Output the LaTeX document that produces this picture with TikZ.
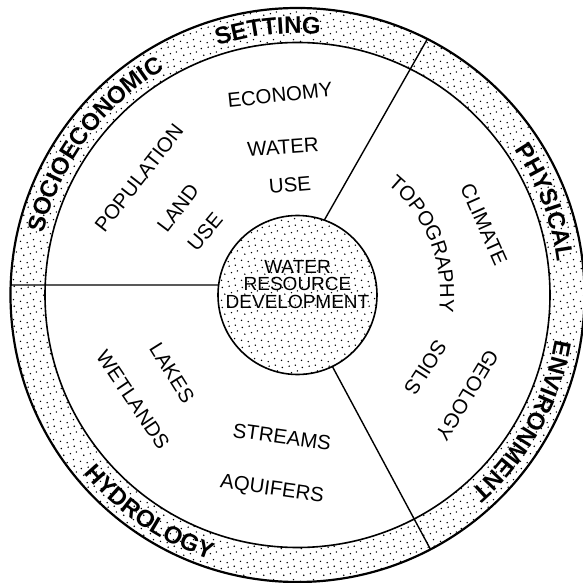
\documentclass[tikz,border=0pt]{standalone}
\usepackage{fontspec}
\setmainfont{Liberation Sans}
\usepackage{tikz}
\usetikzlibrary{decorations.text}
\usetikzlibrary{patterns}
\newcommand{\ringfont}{\fontsize{12}{14}\selectfont\bfseries}
\newcommand{\lablfont}{\fontsize{10.2}{12}\selectfont}
\pgfdeclarepatternformonly{stipple}{\pgfqpoint{0pt}{0pt}}{\pgfqpoint{10pt}{10pt}}{\pgfqpoint{10pt}{10pt}}{%
  \pgfpathcircle{\pgfqpoint{0.8pt}{1.4pt}}{0.42pt}
  \pgfpathcircle{\pgfqpoint{4.3pt}{0.7pt}}{0.42pt}
  \pgfpathcircle{\pgfqpoint{7.6pt}{2.3pt}}{0.42pt}
  \pgfpathcircle{\pgfqpoint{2.5pt}{4.6pt}}{0.42pt}
  \pgfpathcircle{\pgfqpoint{6.0pt}{5.4pt}}{0.42pt}
  \pgfpathcircle{\pgfqpoint{9.1pt}{6.3pt}}{0.42pt}
  \pgfpathcircle{\pgfqpoint{1.2pt}{8.1pt}}{0.42pt}
  \pgfpathcircle{\pgfqpoint{4.8pt}{8.8pt}}{0.42pt}
  \pgfpathcircle{\pgfqpoint{8.0pt}{9.3pt}}{0.42pt}
  \pgfusepath{fill}}
\newcommand{\cwtext}[4]{\path[decorate,decoration={text along path,text align=center,text={|#1|#4}}] (#3+60:#2) arc[start angle=#3+60, end angle=#3-60, radius=#2];}
\newcommand{\ccwtext}[4]{\path[decorate,decoration={text along path,text align=center,text={|#1|#4}}] (#3-60:#2) arc[start angle=#3-60, end angle=#3+60, radius=#2];}
\newcommand{\lbl}[5]{\node[labl, rotate=#4] (#1) at (#2,#3) {#5};}

\begin{document}
\begin{tikzpicture}[x=0.5pt, y=0.5pt, labl/.style={inner sep=0pt, font=\lablfont}]
        \useasboundingbox (-297.5,-288) rectangle (285.5,295);
        % ring and hub
        \fill[pattern=stipple, even odd rule] (0,0) circle[radius=287] (0,0) circle[radius=252.5];
        \draw[line width=1.1pt] (0,0) circle[radius=287];
        \draw[line width=0.8pt] (0,0) circle[radius=252.5];
        \draw[line width=0.8pt, pattern=stipple] (0,0) circle[radius=79.5];
        % dividers
        \coordinate (ne1) at (70.3:79.5);
        \coordinate (ne2) at (63.1:287);
        \coordinate (se1) at (-64:79.5);
        \coordinate (se2) at (-62.4:287);
        \coordinate (w1) at (172.8:79.5);
        \coordinate (w2) at (178:287);
        \draw[line width=0.7pt] (ne1) -- (ne2);
        \draw[line width=0.7pt] (se1) -- (se2);
        \draw[line width=0.7pt] (w1) -- (w2);
        % ring titles
        \cwtext{\ringfont}{261.5}{143.4}{SOCIOECONOMIC}
        \cwtext{\ringfont}{261.5}{96.4}{SETTING}
        \cwtext{\ringfont}{261.5}{20.5}{PHYSICAL}
        \cwtext{\ringfont}{261.5}{-29.2}{ENVIRONMENT}
        \ccwtext{\ringfont}{278.5}{235.8}{HYDROLOGY}
        % hub
        \node[align=center, inner sep=0pt, font=\fontsize{9.5}{8.8}\selectfont] (hub) at (0,10.5) {WATER\\RESOURCE\\DEVELOPMENT};
        % socioeconomic sector
        \lbl{econ}{-17.5}{200}{6}{ECONOMY}
        \lbl{wat}{-14.5}{148}{4}{WATER}
        \lbl{wuse}{-7.5}{110}{5}{USE}
        \lbl{pop}{-158.5}{117}{52}{POPULATION}
        \lbl{land}{-119.5}{87}{53}{LAND}
        \lbl{luse}{-92.5}{63}{50}{USE}
        % physical sector
        \lbl{clim}{186.5}{70.5}{-66}{CLIMATE}
        \cwtext{\lablfont}{142.6}{22}{TOPOGRAPHY}
        \lbl{soil}{128}{-73}{-123}{SOILS}
        \lbl{geol}{169.5}{-100.5}{-121}{GEOLOGY}
        % hydrology sector
        \lbl{lake}{-125.5}{-78}{-58}{LAKES}
        \lbl{wet}{-164.5}{-105}{-56}{WETLANDS}
        \lbl{strm}{-15.5}{-142}{-8}{STREAMS}
        \lbl{aqf}{-25.5}{-195}{-8}{AQUIFERS}
\end{tikzpicture}
\end{document}
